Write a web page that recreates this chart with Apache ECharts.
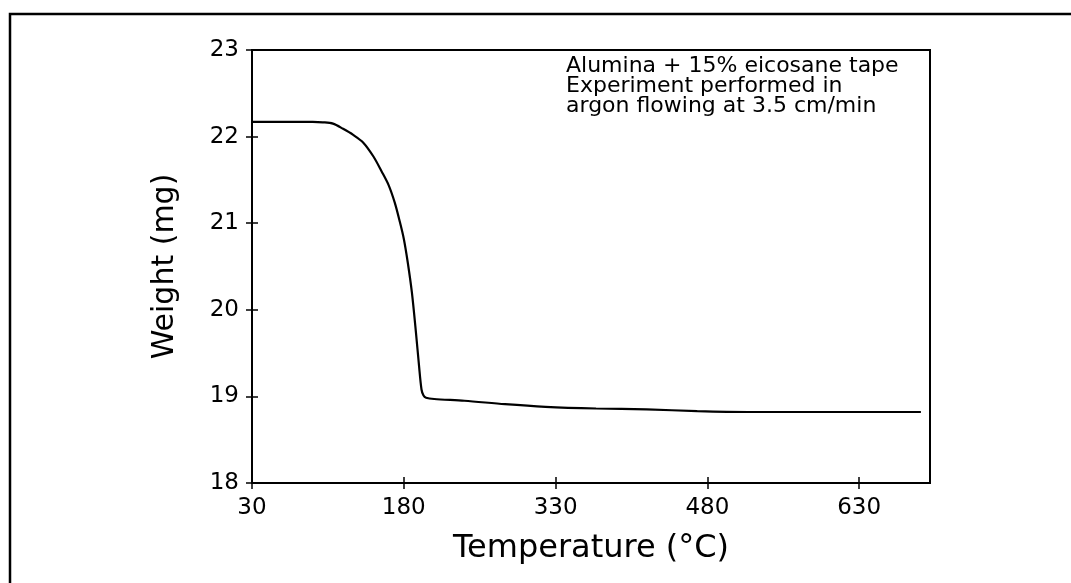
<!DOCTYPE html>
<html>
<head>
<meta charset="utf-8">
<script src="https://cdn.jsdelivr.net/npm/echarts@6/dist/echarts.min.js"></script>
<style>
html,body{margin:0;padding:0;background:#fff;}
#chart{width:1071px;height:583px;}
</style>
</head>
<body>
<div id="chart"></div>
<script>
// Temperature (°C)
const temperature = [30, 60, 90, 100, 110, 120, 130, 140, 150, 158, 165, 171, 176, 180, 184, 188, 192, 195, 197.5, 199.5, 202, 210, 240, 280, 320, 370, 420, 470, 520, 580, 640, 691];
// Weight (mg)
const weight = [22.17, 22.17, 22.17, 22.165, 22.15, 22.09, 22.02, 21.93, 21.77, 21.60, 21.44, 21.24, 21.02, 20.82, 20.54, 20.20, 19.74, 19.36, 19.08, 19.01, 18.985, 18.97, 18.95, 18.91, 18.88, 18.86, 18.85, 18.83, 18.82, 18.82, 18.82, 18.82];
const xTicks = [30, 180, 330, 480, 630];
const yTicks = [18, 19, 20, 21, 22, 23];
const annotationLines = ['Alumina + 15% eicosane tape', 'Experiment performed in', 'argon flowing at 3.5 cm/min'];
const xTitle = 'Temperature (°C)';
const yTitle = 'Weight (mg)';

const FONT = 'DejaVu Sans';
const chart = echarts.init(document.getElementById('chart'), null, {renderer: 'canvas'});

const points = temperature.map((t, i) => [t, weight[i]]);

const baseX = {
  type: 'value', min: 30, max: 700, interval: 150,
  splitLine: {show: false}, gridIndex: 0, position: 'bottom'
};
const baseY = {
  type: 'value', min: 18, max: 23, interval: 1,
  splitLine: {show: false}, gridIndex: 0, position: 'left'
};

chart.setOption({
  animation: false,
  backgroundColor: '#fff',
  grid: {left: 252, top: 50, width: 678, height: 433, show: true, borderColor: '#000', borderWidth: 2, backgroundColor: 'transparent'},
  xAxis: [
    Object.assign({}, baseX, {
      axisLine: {show: true, onZero: false, lineStyle: {color: '#000', width: 2}},
      axisTick: {show: true, length: 6, lineStyle: {color: '#000', width: 1.5}},
      axisLabel: {show: true, margin: 14, color: '#000', fontFamily: FONT, fontSize: 23,
        showMaxLabel: false,
        formatter: v => (xTicks.indexOf(v) >= 0 ? String(v) : '')},
      name: xTitle, nameLocation: 'middle', nameGap: 50,
      nameTextStyle: {color: '#000', fontFamily: FONT, fontSize: 32}
    }),
    Object.assign({}, baseX, {
      axisLine: {show: false, onZero: false},
      axisTick: {show: true, inside: true, length: 6, lineStyle: {color: '#000', width: 1.5}},
      axisLabel: {show: false}
    })
  ],
  yAxis: [
    Object.assign({}, baseY, {
      axisLine: {show: true, onZero: false, lineStyle: {color: '#000', width: 2}},
      axisTick: {show: true, length: 6, lineStyle: {color: '#000', width: 1.5}},
      axisLabel: {show: true, margin: 13, color: '#000', fontFamily: FONT, fontSize: 23,
        formatter: v => (yTicks.indexOf(v) >= 0 ? String(v) : '')},
      name: yTitle, nameLocation: 'middle', nameGap: 72,
      nameTextStyle: {color: '#000', fontFamily: FONT, fontSize: 30}
    }),
    Object.assign({}, baseY, {
      axisLine: {show: false, onZero: false},
      axisTick: {show: true, inside: true, length: 6, lineStyle: {color: '#000', width: 1.5}},
      axisLabel: {show: false}
    })
  ],
  series: [{
    type: 'line',
    xAxisIndex: 0, yAxisIndex: 0,
    data: points,
    showSymbol: false,
    smooth: 0.3,
    lineStyle: {color: '#000', width: 2.2}
  }],
  graphic: [
    {type: 'rect', shape: {x: 10, y: 14, width: 1120, height: 640}, style: {fill: 'none', stroke: '#000', lineWidth: 2.5}, silent: true},
    {type: 'text', left: 566, top: 55, style: {text: annotationLines.join('\n'), fill: '#000', font: '22px "DejaVu Sans"', lineHeight: 20}, silent: true}
  ]
});
</script>
</body>
</html>
